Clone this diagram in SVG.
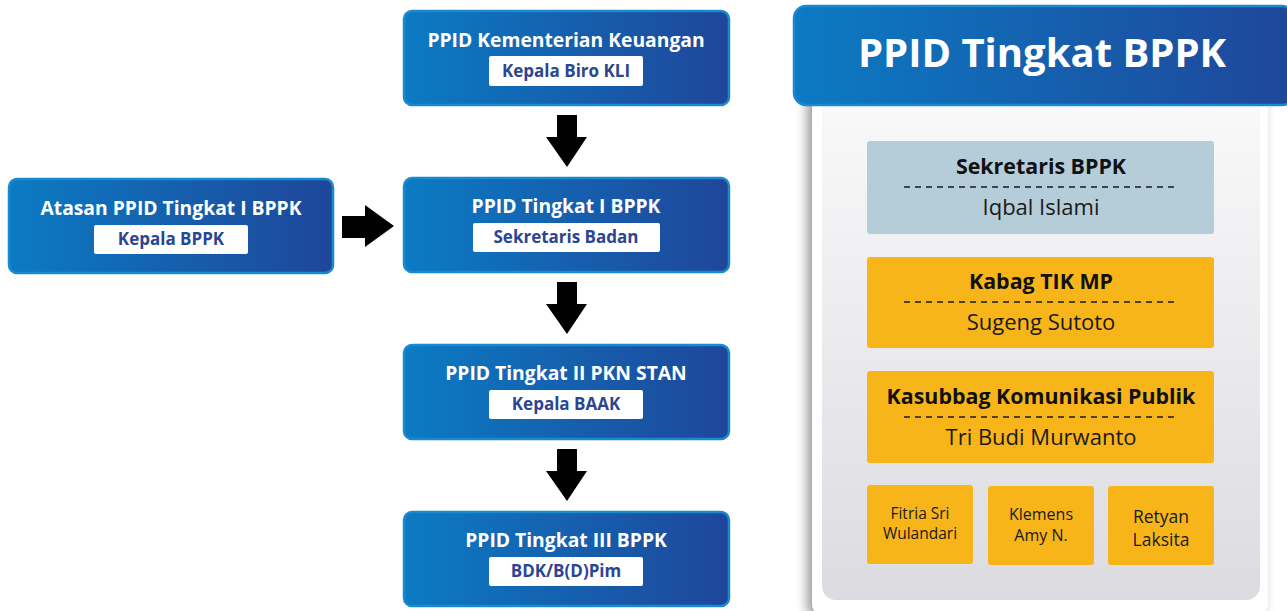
<svg xmlns="http://www.w3.org/2000/svg" width="1287" height="611" viewBox="0 0 1287 611">
<style>
.bx{fill:url(#bg);stroke:#1a8ad0;stroke-width:2.5}
.t{font-family:"Open Sans","Liberation Sans",sans-serif;font-weight:700;fill:#fff;font-size:19.3px;text-anchor:middle}
.lb{fill:#fff}
.lt{font-family:"Open Sans","Liberation Sans",sans-serif;font-weight:700;fill:#2b4592;font-size:17px;text-anchor:middle}
.ar{fill:#000}
.ct{font-family:"Open Sans","Liberation Sans",sans-serif;font-weight:700;fill:#111;font-size:21.4px;text-anchor:middle}
.cn{font-family:"Open Sans","Liberation Sans",sans-serif;fill:#1a1a1a;font-size:22px;text-anchor:middle}
.sn{font-family:"Open Sans","Liberation Sans",sans-serif;fill:#1a1a1a;font-size:15.5px;text-anchor:middle}
.dl{stroke:#1a1a1a;stroke-width:1.3;stroke-dasharray:6 5}
.y{fill:#f7b519}
</style>
<defs>
<linearGradient id="bg" x1="0" y1="0" x2="1" y2="0">
<stop offset="0" stop-color="#0b7bc3"/>
<stop offset="1" stop-color="#1f469a"/>
</linearGradient>
<linearGradient id="pg" x1="0" y1="0" x2="0" y2="1">
<stop offset="0" stop-color="#fafafb"/>
<stop offset="1" stop-color="#dcdbe0"/>
</linearGradient>
<filter id="sh" x="-10%" y="-10%" width="120%" height="120%">
<feGaussianBlur in="SourceAlpha" stdDeviation="6"/>
<feOffset dx="-5" dy="2"/>
<feComponentTransfer><feFuncA type="linear" slope="0.4"/></feComponentTransfer>
<feMerge><feMergeNode/><feMergeNode in="SourceGraphic"/></feMerge>
</filter>
</defs>
<rect width="1287" height="611" fill="#fff"/>

<g id="panel">
<rect x="812" y="60" width="456" height="560" rx="18" fill="#fff" filter="url(#sh)"/>
<rect x="822" y="80" width="438" height="520" rx="14" fill="url(#pg)"/>
</g>
<g id="header">
<rect x="794" y="6" width="500" height="99" rx="12" class="bx"/>
<text x="1042" y="67" class="t" style="font-size:40px">PPID Tingkat BPPK</text>
</g>

<g id="connectors">
<path class="ar" d="M557 115H577V137H587L567 167L546 137H557Z"/>
<path class="ar" d="M557 282H577V304H587L567 334L546 304H557Z"/>
<path class="ar" d="M557 449H577V471H587L567 501L546 471H557Z"/>
<path class="ar" d="M342 216H365V205L394 226L365 247V238H342Z"/>
</g>

<g id="kemenkeu">
<rect x="404" y="11" width="325" height="94" rx="8" class="bx"/>
<text x="566" y="47" class="t">PPID Kementerian Keuangan</text>
<rect x="489" y="56" width="154" height="30" rx="2" class="lb"/>
<text x="566" y="77" class="lt">Kepala Biro KLI</text>
</g>
<g id="atasan">
<rect x="9" y="179" width="324" height="94" rx="8" class="bx"/>
<text x="171" y="215" class="t">Atasan PPID Tingkat I BPPK</text>
<rect x="94" y="225" width="154" height="29" rx="2" class="lb"/>
<text x="171" y="245" class="lt">Kepala BPPK</text>
</g>
<g id="tingkat1">
<rect x="404" y="178" width="325" height="94" rx="8" class="bx"/>
<text x="566" y="213" class="t">PPID Tingkat I BPPK</text>
<rect x="473" y="223" width="187" height="29" rx="2" class="lb"/>
<text x="566" y="243" class="lt">Sekretaris Badan</text>
</g>
<g id="tingkat2">
<rect x="404" y="345" width="325" height="94" rx="8" class="bx"/>
<text x="566" y="380" class="t">PPID Tingkat II PKN STAN</text>
<rect x="489" y="390" width="154" height="29" rx="2" class="lb"/>
<text x="566" y="410" class="lt">Kepala BAAK</text>
</g>
<g id="tingkat3">
<rect x="404" y="512" width="325" height="94" rx="8" class="bx"/>
<text x="566" y="547" class="t">PPID Tingkat III BPPK</text>
<rect x="489" y="557" width="154" height="29" rx="2" class="lb"/>
<text x="566" y="577" class="lt">BDK/B(D)Pim</text>
</g>

<g id="sekretaris">
<rect x="867" y="141" width="347" height="93" rx="3" fill="#b5cdd9"/>
<text x="1041" y="174" class="ct">Sekretaris BPPK</text>
<line x1="904" y1="187" x2="1178" y2="187" class="dl"/>
<text x="1041" y="215" class="cn">Iqbal Islami</text>
</g>
<g id="kabag">
<rect x="867" y="257" width="347" height="91" rx="3" class="y"/>
<text x="1041" y="289" class="ct">Kabag TIK MP</text>
<line x1="904" y1="302" x2="1178" y2="302" class="dl"/>
<text x="1041" y="330" class="cn">Sugeng Sutoto</text>
</g>
<g id="kasubbag">
<rect x="867" y="371" width="347" height="92" rx="3" class="y"/>
<text x="1041" y="404" class="ct">Kasubbag Komunikasi Publik</text>
<line x1="904" y1="417" x2="1178" y2="417" class="dl"/>
<text x="1041" y="445" class="cn">Tri Budi Murwanto</text>
</g>
<g id="fitria">
<rect x="867" y="485" width="106" height="79" rx="3" class="y"/>
<text x="920" y="519" class="sn">Fitria Sri</text>
<text x="920" y="539" class="sn">Wulandari</text>
</g>
<g id="klemens">
<rect x="988" y="486" width="106" height="79" rx="3" class="y"/>
<text x="1041" y="520" class="sn" style="font-size:16px">Klemens</text>
<text x="1041" y="541" class="sn" style="font-size:16px">Amy N.</text>
</g>
<g id="retyan">
<rect x="1108" y="486" width="106" height="79" rx="3" class="y"/>
<text x="1161" y="523" class="sn" style="font-size:17.5px">Retyan</text>
<text x="1161" y="546" class="sn" style="font-size:17.5px">Laksita</text>
</g>
</svg>
